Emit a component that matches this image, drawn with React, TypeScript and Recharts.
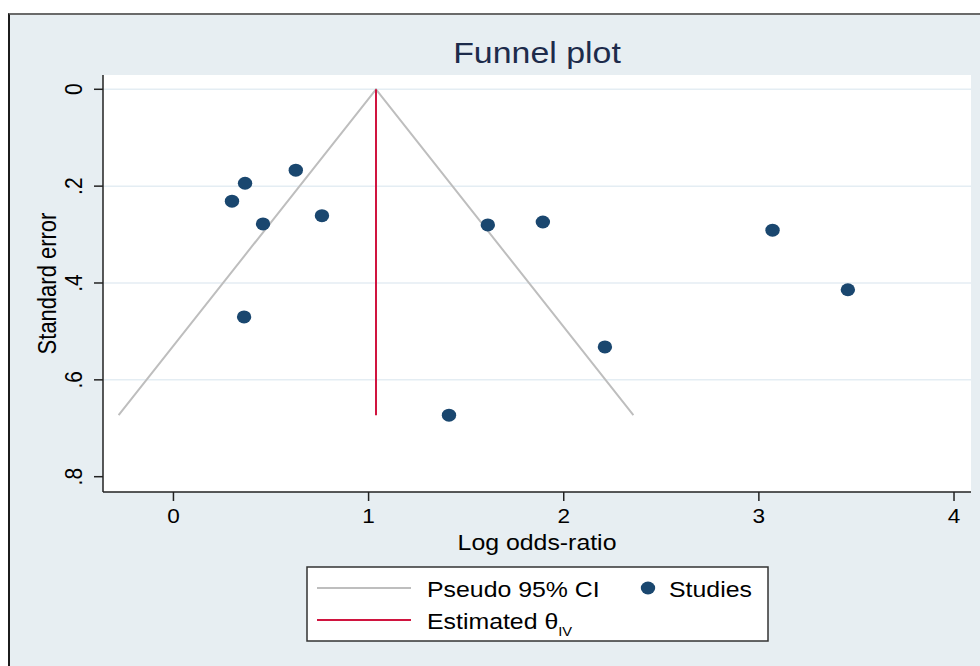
import React from 'react'
import { ScatterChart, Scatter, XAxis, YAxis, CartesianGrid, ReferenceLine } from 'recharts'

// axis ticks
const xTicks = [0, 1, 2, 3, 4]
const yTicks = [0, 0.2, 0.4, 0.6, 0.8]
const yTickLabels = ['0', '.2', '.4', '.6', '.8']
const gridValues = [0, 0.2, 0.4, 0.6]

// studies: log odds-ratio and its standard error
const studyEffect = [0.367, 0.3, 0.627, 0.459, 0.761, 0.362, 1.611, 1.893, 3.07, 3.456, 2.211, 1.412]
const studySE = [0.194, 0.231, 0.167, 0.278, 0.261, 0.47, 0.28, 0.274, 0.291, 0.414, 0.532, 0.673]

// pseudo 95% CI funnel and the estimated effect line
const ciEffect = [-0.281, 1.038, 2.357]
const ciSE = [0.673, 0, 0.673]
const estEffect = [1.038, 1.038]
const estSE = [0, 0.673]

const studies = studyEffect.map((x, i) => ({ x, y: studySE[i] }))
const funnel = ciEffect.map((x, i) => ({ x, y: ciSE[i] }))
const estimate = estEffect.map((x, i) => ({ x, y: estSE[i] }))

const FONT = "'Liberation Sans', Arial, Helvetica, sans-serif"
const SX = 1.13 // the source renders text a bit wide
const NAVY = '#1a476f'
const GRAY = '#bebebe'
const RED = '#d0143f'

const XTick = (props: any) => {
  const { x, payload } = props
  return (
    <text transform={`translate(${x},523) scale(${SX},1)`} textAnchor="middle" fontSize={20} fontFamily={FONT} fill="#000">
      {payload.value}
    </text>
  )
}

const YTick = (props: any) => {
  const { y, payload } = props
  const idx = yTicks.indexOf(payload.value)
  return (
    <text transform={`translate(82,${y}) scale(${SX},1) rotate(-90)`} textAnchor="middle" fontSize={21} fontFamily={FONT} fill="#000">
      {idx >= 0 ? yTickLabels[idx] : payload.value}
    </text>
  )
}

const Dot = (props: any) => {
  const { cx, cy } = props
  return <ellipse cx={cx} cy={cy} rx={7.2} ry={6.5} fill={NAVY} />
}

const NoDot = () => <g />

export default function App() {
  return (
    <div style={{ position: 'absolute', left: 0, top: 0, width: 980, height: 666, background: '#fff', overflow: 'hidden' }}>
      <div
        style={{
          position: 'absolute', left: 8, top: 13, width: 990, height: 700,
          background: '#e7eef2', borderTop: '2px solid #6a6a6a', borderLeft: '2px solid #1c1c1c',
        }}
      />
      <div style={{ position: 'absolute', left: 0, top: 0 }}>
        <ScatterChart width={980} height={666} margin={{ top: 75, right: 9, bottom: 134, left: 63 }}>
          <CartesianGrid fill="#fff" horizontal={false} vertical={false} />
          <XAxis
            type="number"
            dataKey="x"
            domain={[-0.361, 4.087]}
            ticks={xTicks}
            allowDataOverflow
            height={40}
            tickSize={9}
            tickMargin={0}
            axisLine={{ stroke: '#222', strokeWidth: 1.5 }}
            tickLine={{ stroke: '#222', strokeWidth: 1.5 }}
            tick={<XTick />}
          />
          <YAxis
            type="number"
            dataKey="y"
            reversed
            domain={[-0.0295, 0.8316]}
            ticks={yTicks}
            allowDataOverflow
            width={40}
            tickSize={9}
            tickMargin={0}
            axisLine={{ stroke: '#222', strokeWidth: 1.5 }}
            tickLine={{ stroke: '#222', strokeWidth: 1.5 }}
            tick={<YTick />}
          />
          {gridValues.map((v) => (
            <ReferenceLine key={v} y={v} stroke="#e4edf3" strokeWidth={1.5} />
          ))}
          <Scatter data={funnel} line={{ stroke: GRAY, strokeWidth: 2 }} shape={<NoDot />} isAnimationActive={false} />
          <Scatter data={estimate} line={{ stroke: RED, strokeWidth: 2 }} shape={<NoDot />} isAnimationActive={false} />
          <Scatter data={studies} shape={<Dot />} isAnimationActive={false} />
        </ScatterChart>
      </div>
      <svg width={980} height={666} style={{ position: 'absolute', left: 0, top: 0, pointerEvents: 'none' }}>
        <text transform={`translate(537,63.3) scale(${SX},1)`} textAnchor="middle" fontSize={30} fontFamily={FONT} fill="#1d2b4b">
          Funnel plot
        </text>
        <text transform={`translate(537,550) scale(${SX},1)`} textAnchor="middle" fontSize={22} fontFamily={FONT} fill="#000">
          Log odds-ratio
        </text>
        <text transform={`translate(56,283.5) scale(${SX},1) rotate(-90)`} textAnchor="middle" fontSize={22} fontFamily={FONT} fill="#000">
          Standard error
        </text>

        <rect x={307} y={567} width={461} height={74} fill="#fff" stroke="#333" strokeWidth={1.5} />
        <line x1={317} x2={411} y1={588} y2={588} stroke={GRAY} strokeWidth={2} />
        <text transform={`translate(427,597) scale(${SX},1)`} fontSize={22} fontFamily={FONT} fill="#000">
          Pseudo 95% CI
        </text>
        <ellipse cx={648} cy={588} rx={7.2} ry={6.5} fill={NAVY} />
        <text transform={`translate(669,597) scale(${SX},1)`} fontSize={22} fontFamily={FONT} fill="#000">
          Studies
        </text>
        <line x1={317} x2={411} y1={620} y2={620} stroke={RED} strokeWidth={2} />
        <text transform={`translate(427,628.5) scale(${SX},1)`} fontSize={22} fontFamily={FONT} fill="#000">
          Estimated θ<tspan dy={7} fontSize={13}>IV</tspan>
        </text>
      </svg>
    </div>
  )
}
